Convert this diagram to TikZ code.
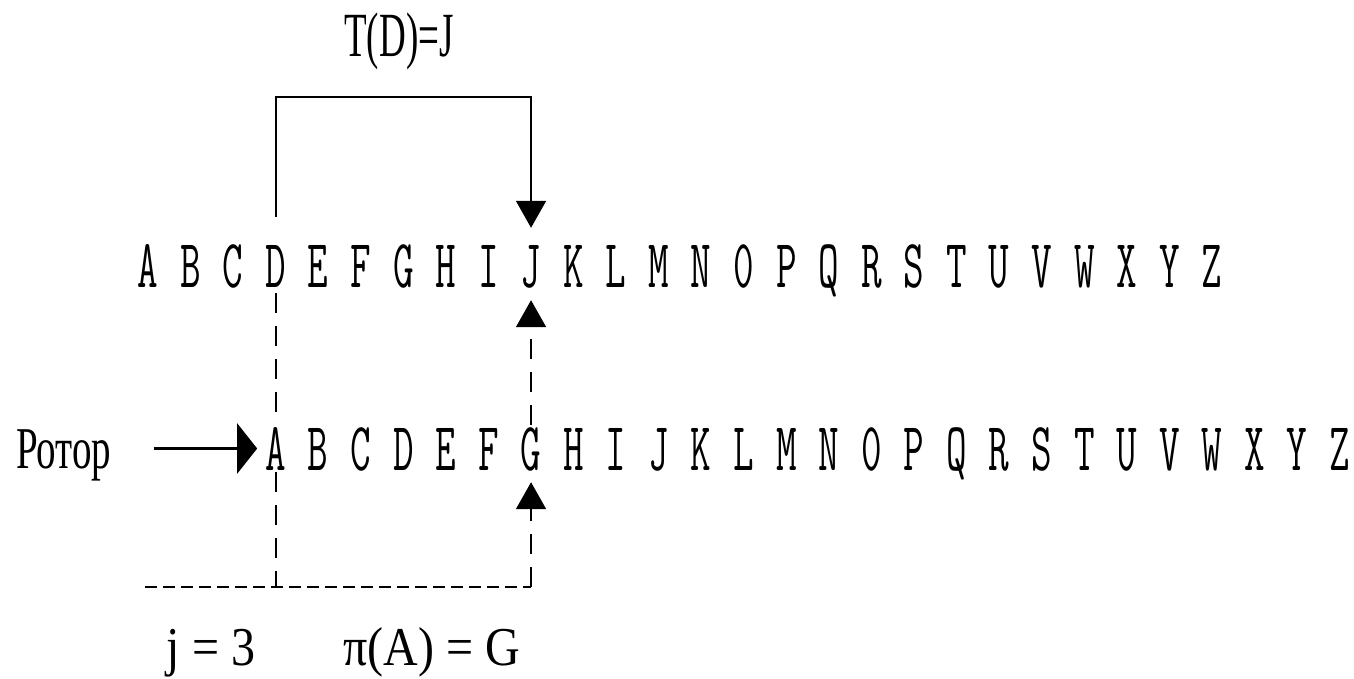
\documentclass[tikz,border=0pt]{standalone}
\usepackage{fontspec}
\usepackage{graphicx}
\usetikzlibrary{arrows.meta}
\newfontfamily\labelfont{Liberation Serif}
% vertically stretched text
\newcommand\stretchy[2]{\scalebox{1}[#1]{#2}}

\begin{document}
\begin{tikzpicture}[x=1pt,y=-1pt,
  letter/.style={inner sep=0pt, anchor=base, text height=42pt, text depth=0pt,
                 font=\ttfamily\fontsize{40pt}{44pt}\selectfont},
  wire/.style={line width=1.8pt},
  hdash/.style={line width=2.2pt, dash pattern=on 12pt off 6pt},
  vdash/.style={line width=1.8pt, dash pattern=on 20pt off 13pt},
  vtip/.style={-{Triangle[width=30pt,length=27pt]}},
  htip/.style={-{Triangle[width=50pt,length=20pt]}},
  caption/.style={inner sep=0pt, anchor=base, font=\labelfont\fontsize{48pt}{52pt}\selectfont}
]
\useasboundingbox (0,0) rectangle (1354,679);

% the plain alphabet (top) and the rotor alphabet shifted by three places (bottom)
\foreach \c [count=\i from 0] in {A,B,C,D,E,F,G,H,I,J,K,L,M,N,0,P,Q,R,S,T,U,V,W,X,Y,Z}{
  \node[letter] (t\c) at ({148+42.56*\i},287) {\stretchy{1.72}{\c}};
  \node[letter] (b\c) at ({148+42.56*(\i+3)},470) {\stretchy{1.72}{\c}};
}

% rotor label and its arrow
\node[inner sep=0pt, anchor=base west, text height=39pt, text depth=0pt,
      font=\labelfont\fontsize{39pt}{42pt}\selectfont] (rotor) at (16,468) {\stretchy{1.52}{Ротор}};
\draw[line width=2.6pt, htip, shorten <=42pt, shorten >=8pt] (rotor.east) -- (rotor.east -| bA.west);

% T(D)=J bracket
\node[inner sep=0pt, anchor=base, font=\labelfont\fontsize{37pt}{40pt}\selectfont] (tdj) at (399,57) {\stretchy{1.7}{T(D)=J}};
\coordinate (peak) at (400,97);
\draw[wire, vtip, shorten <=28pt, shorten >=17pt] (tD.north) |- (peak) -| (tJ.north);

% offset construction with dashed lines
\coordinate (base) at (145,587);
\draw[vdash, shorten <=6pt, shorten >=6pt] (tD.south) -- (bA.north);
\draw[vdash, shorten <=2pt] (bA.south) -- (bA |- base);
\draw[hdash] (base) -- (bG |- base);
\draw[vdash, vtip, shorten >=12pt] (bG |- base) -- (bG.south);
\draw[vdash, vtip, shorten <=3pt, shorten >=13pt] (bG.north) -- (tJ.south);

% captions
\node[caption] (jcap) at (211,665) {\stretchy{1.14}{j = 3}};
\node[caption] (picap) at (432,665) {\stretchy{1.14}{π(A) = G}};
\end{tikzpicture}
\end{document}
